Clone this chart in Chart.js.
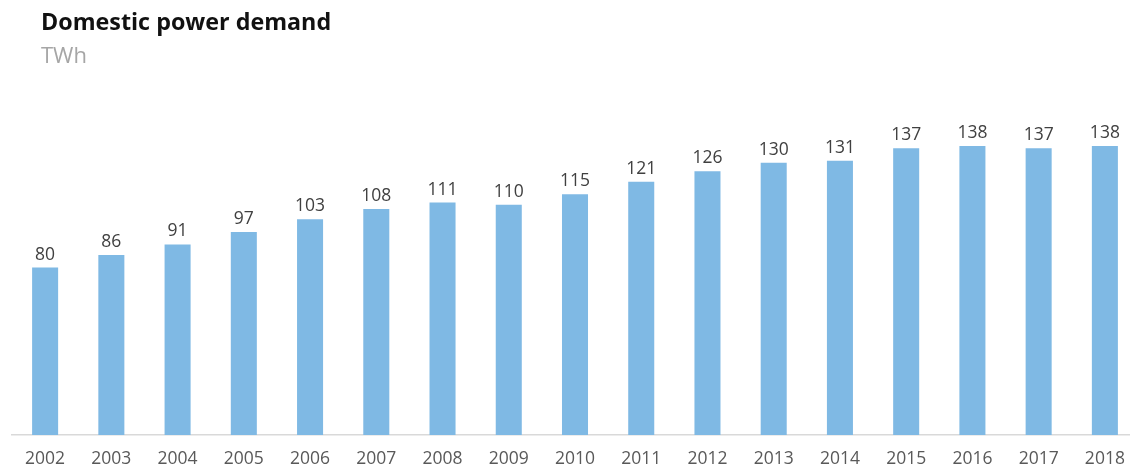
<!DOCTYPE html>
<html>
<head>
<meta charset="utf-8">
<script src="https://cdn.jsdelivr.net/npm/chart.js@4/dist/chart.umd.min.js"></script>
<style>
  html, body { margin: 0; padding: 0; background: #ffffff; overflow: hidden; }
  #wrap { width: 1140px; height: 474px; }
</style>
</head>
<body>
<div id="wrap"><canvas id="c" width="1140" height="474"></canvas></div>
<script>
// Domestic power demand, TWh per year
const years = ['2002','2003','2004','2005','2006','2007','2008','2009','2010',
               '2011','2012','2013','2014','2015','2016','2017','2018'];
const demand = [80, 86, 91, 97, 103, 108, 111, 110, 115, 121, 126, 130, 131, 137, 138, 137, 138];
const chartTitle = 'Domestic power demand';
const chartUnit = 'TWh';

const FONT = "'Open Sans', 'DejaVu Sans', sans-serif";

// Headline and unit line in the top-left corner
const headerPlugin = {
  id: 'header',
  afterDraw(chart) {
    const ctx = chart.ctx;
    ctx.save();
    ctx.textAlign = 'left';
    ctx.textBaseline = 'alphabetic';
    ctx.fillStyle = '#111111';
    ctx.font = `bold 23.3px ${FONT}`;
    ctx.fillText(chartTitle, 41, 30);
    ctx.fillStyle = '#a6a6a6';
    ctx.font = `22px ${FONT}`;
    ctx.fillText(chartUnit, 41, 63);
    ctx.restore();
  }
};

// Value above each bar
const valueLabels = {
  id: 'valueLabels',
  afterDatasetsDraw(chart) {
    const ctx = chart.ctx;
    const meta = chart.getDatasetMeta(0);
    const data = chart.data.datasets[0].data;
    ctx.save();
    ctx.textAlign = 'center';
    ctx.textBaseline = 'alphabetic';
    ctx.fillStyle = '#404040';
    ctx.font = `17.5px ${FONT}`;
    meta.data.forEach((bar, i) => {
      ctx.fillText(String(data[i]), bar.x, bar.y - 8);
    });
    ctx.restore();
  }
};

new Chart(document.getElementById('c'), {
  type: 'bar',
  data: {
    labels: years,
    datasets: [{
      data: demand,
      backgroundColor: '#7fb9e4',
      borderWidth: 0,
      barPercentage: 0.393,
      categoryPercentage: 1.0
    }]
  },
  options: {
    responsive: false,
    animation: false,
    events: [],
    layout: { padding: { left: 12, right: 2, top: 100, bottom: 4 } },
    plugins: {
      legend: { display: false },
      title: { display: false },
      tooltip: { enabled: false }
    },
    scales: {
      x: {
        grid: { display: false, drawTicks: false },
        border: { display: true, color: '#d9d9d9', width: 1.5 },
        ticks: {
          color: '#595959',
          font: { family: FONT, size: 17.5 },
          padding: 14,
          maxRotation: 0,
          autoSkip: false
        },
        afterFit(scale) { scale.height = 35; }
      },
      y: {
        display: false,
        min: 0,
        max: 160
      }
    }
  },
  plugins: [headerPlugin, valueLabels]
});
</script>
</body>
</html>
